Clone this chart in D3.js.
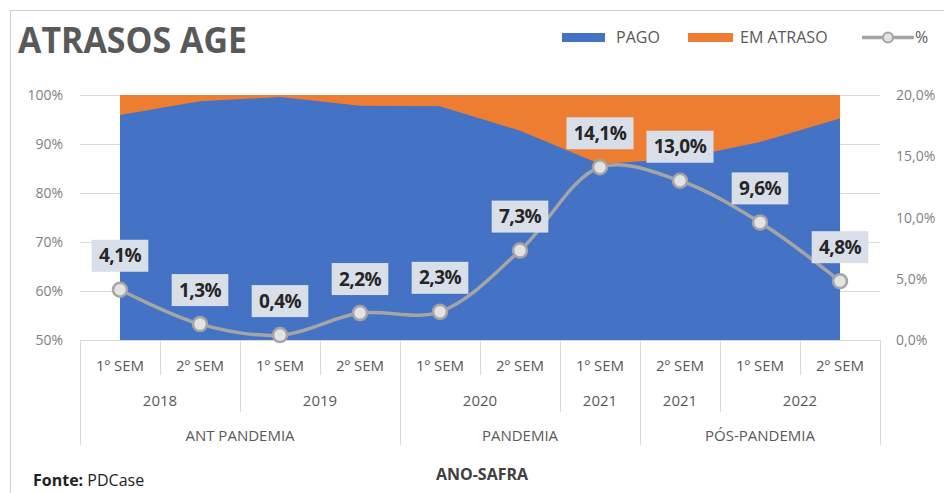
<!DOCTYPE html>
<html>
<head>
<meta charset="utf-8">
<script src="https://cdn.jsdelivr.net/npm/d3@7"></script>
<style>
  body { margin: 0; background: #fff; }
  text { font-family: "Open Sans", "Noto Sans", sans-serif; }
</style>
</head>
<body>
<div id="svg_chart"></div>
<script>
///////////// Data //////////////
var semesters = ['1º SEM', '2º SEM', '1º SEM', '2º SEM', '1º SEM', '2º SEM', '1º SEM', '2º SEM', '1º SEM', '2º SEM'];
var years = [
  {label: '2018', from: 0, to: 1},
  {label: '2019', from: 2, to: 3},
  {label: '2020', from: 4, to: 5},
  {label: '2021', from: 6, to: 6},
  {label: '2021', from: 7, to: 7},
  {label: '2022', from: 8, to: 9}
];
var periods = [
  {label: 'ANT PANDEMIA', from: 0, to: 3},
  {label: 'PANDEMIA', from: 4, to: 6},
  {label: 'PÓS-PANDEMIA', from: 7, to: 9}
];
var em_atraso = [4.1, 1.3, 0.4, 2.2, 2.3, 7.3, 14.1, 13.0, 9.6, 4.8];
var pago = [95.9, 98.7, 99.6, 97.8, 97.7, 92.7, 85.9, 87.0, 90.4, 95.2];
var left_ticks = [50, 60, 70, 80, 90, 100];
var right_ticks = [0, 5, 10, 15, 20];

///////////// Layout //////////////
const width = 944, height = 493;
const plot_left = 80, plot_right = 880, plot_top = 95, plot_bottom = 340;
const blue = '#4472c4', orange = '#ed7d31', grey_line = '#a5a5a5';

var svg = d3.select('#svg_chart').append('svg')
  .attr('width', width)
  .attr('height', height);

// chart border
svg.append('rect')
  .attr('x', 10.5).attr('y', 10.5)
  .attr('width', 950).attr('height', 520)
  .attr('fill', 'none')
  .attr('stroke', '#d0d0d0');

var x = d3.scaleBand().domain(d3.range(semesters.length)).range([plot_left, plot_right]);
var cx = i => x(i) + x.bandwidth() / 2;
var y_left = d3.scaleLinear().domain([50, 100]).range([plot_bottom, plot_top]);
var y_right = d3.scaleLinear().domain([0, 20]).range([plot_bottom, plot_top]);

// gridlines
svg.append('g').selectAll('line').data(left_ticks).enter().append('line')
  .attr('x1', plot_left).attr('x2', plot_right)
  .attr('y1', d => Math.round(y_left(d)) + 0.5).attr('y2', d => Math.round(y_left(d)) + 0.5)
  .attr('stroke', '#d9d9d9');

// left axis labels
svg.append('g').selectAll('text').data(left_ticks).enter().append('text')
  .attr('x', 63).attr('y', d => y_left(d) + 5)
  .attr('text-anchor', 'end')
  .attr('font-size', 14).attr('fill', '#7f7f7f')
  .text(d => d + '%');

// right axis labels
svg.append('g').selectAll('text').data(right_ticks).enter().append('text')
  .attr('x', 896).attr('y', d => y_right(d) + 5)
  .attr('font-size', 14).attr('fill', '#7f7f7f')
  .text(d => d3.format('.1f')(d).replace('.', ',') + '%');

// stacked areas (100%)
var area_total = d3.area()
  .x((d, i) => cx(i))
  .y0(y_left(50))
  .y1(y_left(100));
svg.append('path')
  .datum(pago)
  .attr('d', area_total)
  .attr('fill', orange);

var area_pago = d3.area()
  .x((d, i) => cx(i))
  .y0(y_left(50))
  .y1(d => y_left(d));
svg.append('path')
  .datum(pago)
  .attr('d', area_pago)
  .attr('fill', blue);

// category axis
var axis_g = svg.append('g').attr('stroke', '#d9d9d9').attr('stroke-width', 1);
axis_g.append('line')
  .attr('x1', plot_left).attr('x2', plot_right)
  .attr('y1', plot_bottom + 0.5).attr('y2', plot_bottom + 0.5);
var row1 = 375, row2 = 412, row3 = 445;
d3.range(semesters.length + 1).forEach(function(i){
  var xx = i < semesters.length ? x(i) : plot_right;
  var bottom = row1;
  if (years.some(g => g.from === i) || i === semesters.length) bottom = row2;
  if (periods.some(g => g.from === i) || i === semesters.length) bottom = row3;
  axis_g.append('line')
    .attr('x1', Math.round(xx) + 0.5).attr('x2', Math.round(xx) + 0.5)
    .attr('y1', plot_bottom).attr('y2', bottom);
});

var label_g = svg.append('g').attr('fill', '#595959').attr('font-size', 15).attr('text-anchor', 'middle');
label_g.selectAll('.sem').data(semesters).enter().append('text')
  .attr('x', (d, i) => cx(i)).attr('y', 371)
  .text(d => d);
label_g.selectAll('.yr').data(years).enter().append('text')
  .attr('x', d => (x(d.from) + x(d.to) + x.bandwidth()) / 2).attr('y', 406)
  .text(d => d.label);
label_g.selectAll('.per').data(periods).enter().append('text')
  .attr('x', d => (x(d.from) + x(d.to) + x.bandwidth()) / 2).attr('y', 441)
  .text(d => d.label);

// % line
var line = d3.line()
  .x((d, i) => cx(i))
  .y(d => y_right(d))
  .curve(d3.curveCatmullRom.alpha(0.5));
svg.append('path')
  .datum(em_atraso)
  .attr('d', line)
  .attr('fill', 'none')
  .attr('stroke', grey_line)
  .attr('stroke-width', 3.5);

svg.append('g').selectAll('circle').data(em_atraso).enter().append('circle')
  .attr('cx', (d, i) => cx(i))
  .attr('cy', d => y_right(d))
  .attr('r', 7)
  .attr('fill', '#e3e3e3')
  .attr('stroke', grey_line)
  .attr('stroke-width', 2.5);

// data labels
var fmt = d => d3.format('.1f')(d).replace('.', ',') + '%';
var labels = svg.append('g').selectAll('g').data(em_atraso).enter().append('g')
  .attr('transform', (d, i) => `translate(${cx(i)},${y_right(d) - 34})`);
labels.append('text')
  .attr('text-anchor', 'middle')
  .attr('y', 6.5)
  .attr('font-size', 19)
  .attr('font-weight', 'bold')
  .attr('fill', '#262626')
  .attr('letter-spacing', -0.5)
  .text(fmt);
labels.each(function(){
  var g = d3.select(this);
  var bb = g.select('text').node().getBBox();
  g.insert('rect', 'text')
    .attr('x', -bb.width / 2 - 7).attr('y', -16)
    .attr('width', bb.width + 14).attr('height', 32)
    .attr('fill', '#d9dfe9');
});

// title
svg.append('text')
  .attr('x', 18).attr('y', 53)
  .attr('font-size', 35)
  .attr('font-weight', 'bold')
  .attr('fill', '#595959')
  .attr('textLength', 229)
  .attr('lengthAdjust', 'spacingAndGlyphs')
  .text('ATRASOS AGE');

// legend
var legend = svg.append('g').attr('font-size', 16).attr('fill', '#595959');
legend.append('rect').attr('x', 562).attr('y', 33).attr('width', 43).attr('height', 9).attr('fill', blue);
legend.append('text').attr('x', 616).attr('y', 43).text('PAGO');
legend.append('rect').attr('x', 688).attr('y', 33).attr('width', 45).attr('height', 9).attr('fill', orange);
legend.append('text').attr('x', 740).attr('y', 43).text('EM ATRASO');
legend.append('line').attr('x1', 862).attr('x2', 914).attr('y1', 37.5).attr('y2', 37.5)
  .attr('stroke', grey_line).attr('stroke-width', 3.5);
legend.append('circle').attr('cx', 888).attr('cy', 37.5).attr('r', 5)
  .attr('fill', '#e3e3e3').attr('stroke', grey_line).attr('stroke-width', 2);
legend.append('text').attr('x', 915).attr('y', 43).text('%');

// footer
var fonte = svg.append('text')
  .attr('x', 33).attr('y', 486)
  .attr('font-size', 16)
  .attr('fill', '#222');
fonte.append('tspan').attr('font-weight', 'bold').text('Fonte: ');
fonte.append('tspan').text('PDCase');

svg.append('text')
  .attr('x', 482).attr('y', 480)
  .attr('text-anchor', 'middle')
  .attr('font-size', 16)
  .attr('font-weight', 'bold')
  .attr('fill', '#404040')
  .text('ANO-SAFRA');
</script>
</body>
</html>
